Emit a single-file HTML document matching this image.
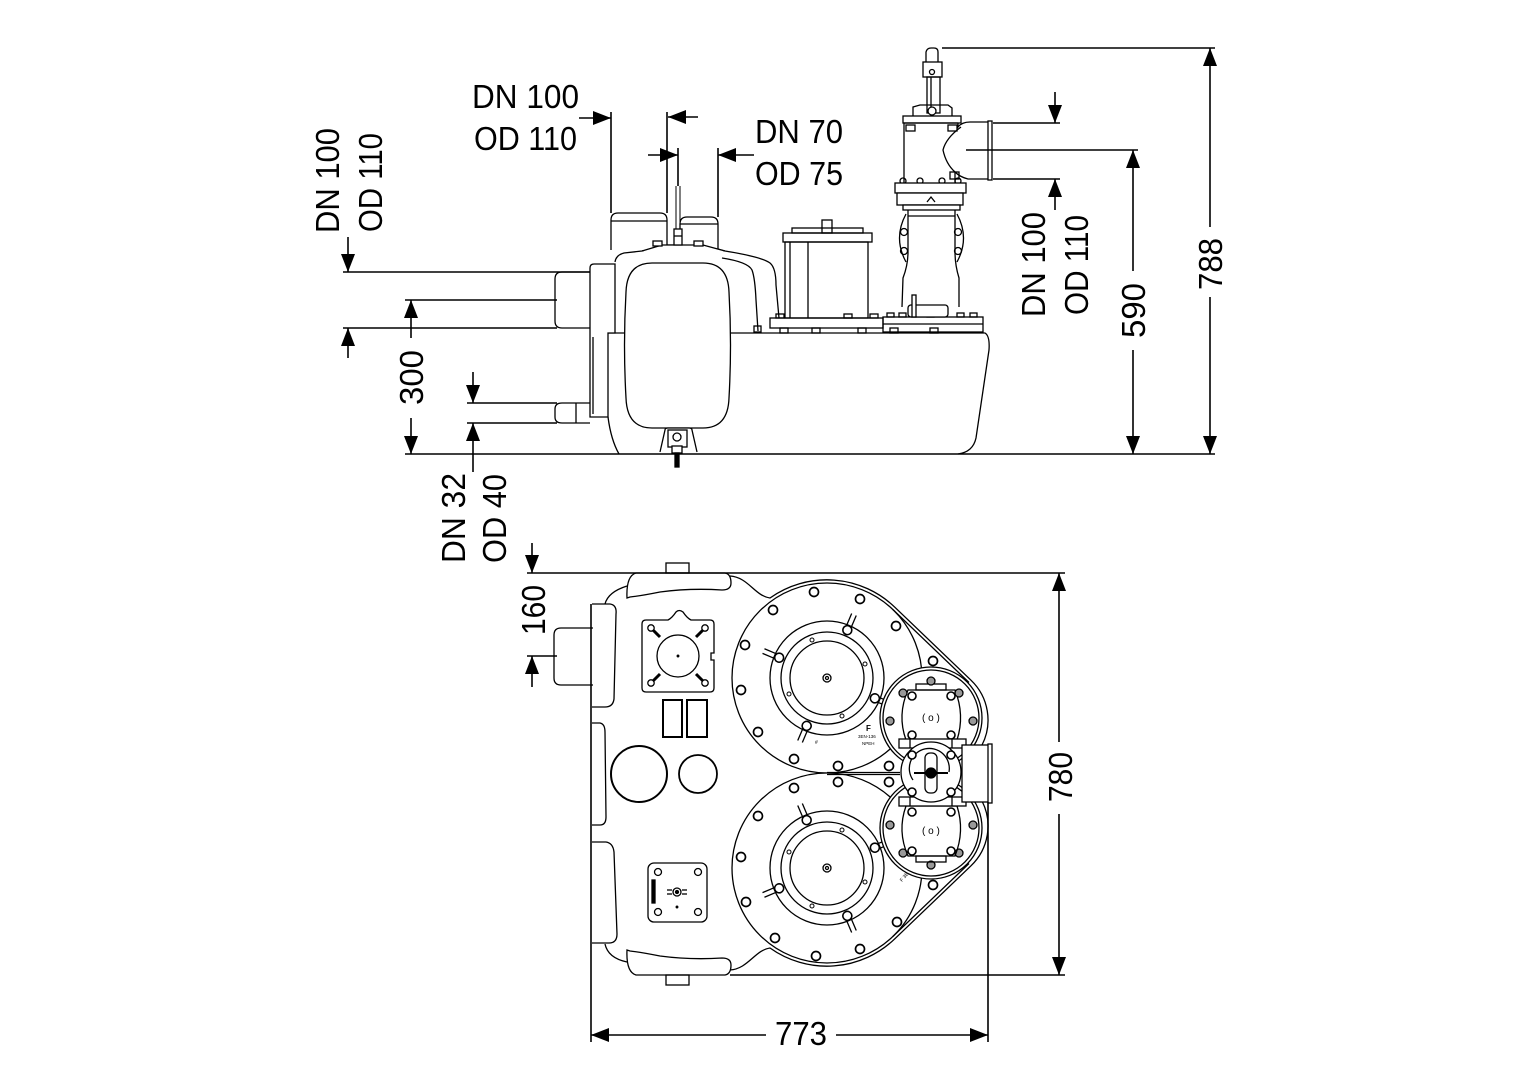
<!DOCTYPE html>
<html><head><meta charset="utf-8"><style>
html,body{margin:0;padding:0;background:#fff;}
svg{display:block;}
text{font-family:"Liberation Sans",Arial,sans-serif;fill:#000;stroke:none;}
</style></head><body>
<svg width="1528" height="1080" viewBox="0 0 1528 1080" xmlns="http://www.w3.org/2000/svg">
<defs>
<marker id="a" markerUnits="userSpaceOnUse" markerWidth="18" markerHeight="14" refX="18" refY="7" orient="auto"><path d="M0,0 L18,7 L0,14 Z" fill="#000" stroke="none"/></marker>
</defs>
<rect width="1528" height="1080" fill="#fff"/>

<!-- ================= ELEVATION DRAWING ================= -->
<g fill="none" stroke="#000" stroke-width="1.3">
 <!-- tank -->
 <path d="M608,333 L985,333 Q990,336 989,350 L976,438 Q973,452 958,454"/>
 <path d="M608,417 Q611,440 619,454"/>
 <!-- inlet pipe DN100 -->
 <path d="M590,272 L562,272 Q555,272 555,279 L555,321 Q555,328 562,328 L590,328" fill="#fff"/>
 <!-- small pipe DN32 -->
 <path d="M590,403 L562,403 Q555,403 555,409 L555,417 Q555,423 562,423 L590,423"/>
 <line x1="576" y1="403" x2="576" y2="423"/>
 <!-- flange -->
 <path d="M594,264 L615,264 L615,333 L608,333 L608,417 L590,417 L590,268 Q590,264 594,264 Z" fill="#fff"/>
 <line x1="593" y1="337" x2="593" y2="414"/>
 <!-- upper body -->
 <path d="M615,262 Q616,255 624,253 L642,251 L662,245 L703,245 L725,251 Q762,257 770,263 Q776,268 776,285 L779,318"/>
 <path d="M722,258 Q748,262 752,270 Q755,278 756,300 L758,331"/>
 <rect x="754" y="326" width="7" height="6"/>
 <!-- cylinders -->
 <path d="M611,250 L611,220 Q611,213 618,213 L660,213 Q667,213 667,220 L667,250" fill="#fff"/>
 <line x1="611" y1="221" x2="667" y2="221"/>
 <path d="M680,250 L680,224 Q680,217 687,217 L711,217 Q718,217 718,224 L718,250" fill="#fff"/>
 <line x1="680" y1="224" x2="718" y2="224"/>
 <path d="M642,251 L662,245 L703,245 L725,251" fill="#fff"/>
 <rect x="653" y="241" width="9" height="5" fill="#fff"/>
 <rect x="694" y="241" width="9" height="5" fill="#fff"/>
 <rect x="674" y="229" width="8" height="16" fill="#fff"/>
 <line x1="674" y1="236" x2="682" y2="236"/>
 <line x1="676" y1="186" x2="676" y2="229" stroke-width="1"/>
 <line x1="680" y1="186" x2="680" y2="229" stroke-width="1"/>
 <!-- capsule -->
 <path d="M652,263 L703,263 Q728,263 729,292 Q732,345 729,398 Q728,428 703,428 L652,428 Q627,428 626,398 Q623,345 626,292 Q627,263 652,263 Z" fill="#fff"/>
 <!-- drain foot -->
 <path d="M660,452 L665,430 Q665,428 668,428 L689,428 Q692,428 692,430 L697,452" fill="#fff"/>
 <rect x="668" y="430" width="19" height="17"/>
 <circle cx="677" cy="437" r="4"/>
 <rect x="672" y="446" width="10" height="7" fill="#fff"/>
 <rect x="675" y="453" width="4" height="14" fill="#000"/>

 <!-- motor box -->
 <rect x="822" y="220" width="10" height="13"/>
 <rect x="792" y="228" width="71" height="5"/>
 <rect x="783" y="233" width="89" height="9"/>
 <rect x="785" y="242" width="83" height="76"/>
 <line x1="790" y1="242" x2="790" y2="318"/>
 <line x1="808" y1="242" x2="808" y2="318"/>
 <rect x="770" y="318" width="113" height="10"/>
 <rect x="776" y="314" width="8" height="4"/>
 <rect x="844" y="314" width="8" height="4"/>
 <rect x="870" y="314" width="8" height="4"/>
 <rect x="780" y="328" width="8" height="5"/>
 <rect x="812" y="328" width="8" height="5"/>
 <rect x="858" y="328" width="8" height="5"/>
 <!-- pump base plate -->
 <rect x="883" y="317" width="100" height="15"/>
 <line x1="883" y1="324" x2="983" y2="324"/>
 <rect x="887" y="313" width="7" height="4"/>
 <rect x="899" y="313" width="7" height="4"/>
 <rect x="927" y="313" width="7" height="4"/>
 <rect x="957" y="313" width="7" height="4"/>
 <rect x="970" y="313" width="7" height="4"/>
 <rect x="890" y="328" width="8" height="5"/>
 <rect x="930" y="328" width="8" height="5"/>

 <!-- pump column -->
 <path d="M926,62 L926,52 Q927,48 931,48 L934,48 Q938,48 938,52 L938,62"/>
 <rect x="923" y="62" width="19" height="15"/>
 <rect x="927" y="77" width="13" height="36"/>
 <line x1="931" y1="77" x2="931" y2="107"/>
 <circle cx="932" cy="72" r="2.5"/>
 <circle cx="932" cy="111" r="4" fill="#fff"/>
 <path d="M913,116 L913,107 L920,105 L948,105 L952,108 L952,116"/>
 <rect x="903" y="116" width="58" height="7"/>
 <path d="M958,123 L904,123 L904,183"/>
 <path d="M958,123 L958,127 Q962,122 970,122 L989,122 L989,179 L968,179 Q960,177 955,172"/>
 <path d="M961,127 Q946,138 943,150 Q946,164 955,172 L955,183"/>
 <rect x="988" y="121" width="4" height="59" fill="#fff"/>
 <rect x="906" y="125" width="9" height="6"/>
 <rect x="948" y="125" width="9" height="6"/>
 <rect x="950" y="172" width="9" height="7"/>
 <circle cx="903" cy="181" r="3"/>
 <circle cx="920" cy="181" r="3"/>
 <circle cx="942" cy="181" r="3"/>
 <circle cx="958" cy="181" r="3"/>
 <rect x="895" y="183" width="71" height="10" fill="#fff"/>
 <rect x="897" y="193" width="66" height="12" fill="#fff"/>
 <path d="M927,202 L931,197 L935,202"/>
 <rect x="903" y="205" width="57" height="5" fill="#fff"/>
 <line x1="908" y1="216" x2="955" y2="216"/>
 <path d="M908,210 L908,252 Q908,265 903,278 L902,307"/>
 <path d="M955,210 L955,252 Q955,265 959,278 L959,307"/>
 <path d="M906,214 Q893,238 906,262"/>
 <path d="M957,214 Q970,238 957,262"/>
 <circle cx="904" cy="232" r="3.5"/>
 <circle cx="904" cy="251" r="3.5"/>
 <circle cx="958" cy="232" r="3.5"/>
 <circle cx="958" cy="251" r="3.5"/>
 <rect x="908" y="305" width="40" height="12" rx="3" fill="#fff"/>
 <rect x="912" y="295" width="4" height="22" fill="#fff"/>
</g>

<!-- ================= PLAN DRAWING ================= -->
<g fill="none" stroke="#000" stroke-width="1.3">
 <!-- lips & tabs -->
 <path d="M627,598 Q626,576 636,573 L725,573 Q731,574 731,583 Q731,590 722,590 Q690,588 660,592 Q640,596 630,597 Z"/>
 <path d="M627,950 Q626,972 636,975 L725,975 Q731,974 731,965 Q731,958 722,958 Q690,960 660,956 Q640,952 630,951 Z"/>
 <rect x="666" y="563" width="23" height="10"/>
 <rect x="666" y="975" width="23" height="10"/>
 <path d="M627,586 Q608,592 605,604"/>
 <path d="M605,944 Q608,958 627,962"/>
 <!-- left pads -->
 <path d="M592,604 L610,604 Q617,605 616,614 L614,699 Q613,707 605,707 L592,707"/>
 <path d="M592,723 L600,723 Q605,724 605,732 L606,817 Q606,825 600,825 L592,825"/>
 <path d="M592,842 L606,842 Q613,843 614,852 L617,934 Q617,943 609,943 L592,943"/>
 <path d="M593,628 L561,628 Q554,628 554,635 L554,678 Q554,685 561,685 L593,685"/>
 <!-- upper square plate -->
 <path d="M646,620 L668,620 Q672,618 676,612 Q679,609 683,612 Q687,618 691,620 L710,620 Q714,620 714,624 L714,653 L711,653 L711,660 L714,660 L714,688 Q714,692 710,692 L646,692 Q642,692 642,688 L642,624 Q642,620 646,620 Z"/>
 <circle cx="678" cy="656" r="21"/>
 <circle cx="678" cy="656" r="0.8" fill="#000"/>
 <line x1="651" y1="628" x2="660" y2="637" stroke-width="3"/>
 <line x1="705" y1="628" x2="696" y2="637" stroke-width="3"/>
 <line x1="651" y1="683" x2="660" y2="674" stroke-width="3"/>
 <line x1="705" y1="683" x2="696" y2="674" stroke-width="3"/>
 <circle cx="651" cy="628" r="3.2" fill="#fff"/>
 <circle cx="705" cy="628" r="3.2" fill="#fff"/>
 <circle cx="651" cy="683" r="3.2" fill="#fff"/>
 <circle cx="705" cy="683" r="3.2" fill="#fff"/>
 <rect x="663" y="700" width="19" height="37" stroke-width="2"/>
 <rect x="687" y="700" width="20" height="37" stroke-width="2"/>
 <circle cx="639" cy="774" r="28" stroke-width="2"/>
 <circle cx="698" cy="774" r="19" stroke-width="1.8"/>
 <!-- lower plate -->
 <rect x="648" y="863" width="59" height="59" rx="6"/>
 <circle cx="658" cy="872" r="3.5"/><circle cx="698" cy="872" r="3.5"/>
 <circle cx="658" cy="912" r="3.5"/><circle cx="698" cy="912" r="3.5"/>
 <circle cx="677" cy="892" r="4"/><circle cx="677" cy="892" r="1.5" fill="#000"/>
 <line x1="667" y1="890" x2="672" y2="890"/><line x1="667" y1="894" x2="672" y2="894"/>
 <line x1="682" y1="890" x2="687" y2="890"/><line x1="682" y1="894" x2="687" y2="894"/>
 <circle cx="677" cy="907" r="0.8" fill="#000"/>
 <rect x="652" y="880" width="3" height="23" fill="#000"/>

 <!-- flanges -->
 <circle cx="827" cy="678" r="95" fill="#fff"/>
 <circle cx="827" cy="868" r="95" fill="#fff"/>
 <line x1="827" y1="772.5" x2="900" y2="772.5"/>
 <line x1="827" y1="774.5" x2="900" y2="774.5"/>
 <!-- outer contours -->
 <path d="M730,576 C748,577 755,596 770,598 A98,98 0 0,1 894.8,607.2 L971.1,680.3 A55,55 0 0,1 982,745"/>
 <line x1="892.7" y1="609.4" x2="969" y2="682.5"/>
 <path d="M730,970 C748,969 755,950 770,948 A98,98 0 0,0 894.8,938.8 L971.1,865.7 A55,55 0 0,0 982,801"/>
 <line x1="892.7" y1="936.6" x2="969" y2="863.5"/>

 <!-- upper ring -->
 <g transform="translate(827,678)">
  <circle r="57"/><circle r="46"/><circle r="37"/><circle r="4"/><circle r="1.5"/>
  <g transform="rotate(-67)"><line x1="56" y1="-2.5" x2="69" y2="-2.5"/><line x1="56" y1="2.5" x2="69" y2="2.5"/><circle cx="52" r="4.5" fill="#fff" stroke-width="1.6"/></g>
  <g transform="rotate(23)"><line x1="56" y1="-2.5" x2="69" y2="-2.5"/><line x1="56" y1="2.5" x2="69" y2="2.5"/><circle cx="52" r="4.5" fill="#fff" stroke-width="1.6"/></g>
  <g transform="rotate(113)"><line x1="56" y1="-2.5" x2="69" y2="-2.5"/><line x1="56" y1="2.5" x2="69" y2="2.5"/><circle cx="52" r="4.5" fill="#fff" stroke-width="1.6"/></g>
  <g transform="rotate(203)"><line x1="56" y1="-2.5" x2="69" y2="-2.5"/><line x1="56" y1="2.5" x2="69" y2="2.5"/><circle cx="52" r="4.5" fill="#fff" stroke-width="1.6"/></g>
  <g stroke-width="1"><circle cx="-15" cy="-38" r="2"/><circle cx="38" cy="-14" r="2"/><circle cx="15" cy="38" r="2"/><circle cx="-38" cy="16" r="2"/></g>
 </g>
 <!-- lower ring -->
 <g transform="translate(827,868)">
  <circle r="57"/><circle r="46"/><circle r="37"/><circle r="4"/><circle r="1.5"/>
  <g transform="rotate(67)"><line x1="56" y1="-2.5" x2="69" y2="-2.5"/><line x1="56" y1="2.5" x2="69" y2="2.5"/><circle cx="52" r="4.5" fill="#fff" stroke-width="1.6"/></g>
  <g transform="rotate(-23)"><line x1="56" y1="-2.5" x2="69" y2="-2.5"/><line x1="56" y1="2.5" x2="69" y2="2.5"/><circle cx="52" r="4.5" fill="#fff" stroke-width="1.6"/></g>
  <g transform="rotate(-113)"><line x1="56" y1="-2.5" x2="69" y2="-2.5"/><line x1="56" y1="2.5" x2="69" y2="2.5"/><circle cx="52" r="4.5" fill="#fff" stroke-width="1.6"/></g>
  <g transform="rotate(157)"><line x1="56" y1="-2.5" x2="69" y2="-2.5"/><line x1="56" y1="2.5" x2="69" y2="2.5"/><circle cx="52" r="4.5" fill="#fff" stroke-width="1.6"/></g>
  <g stroke-width="1"><circle cx="-15" cy="38" r="2"/><circle cx="38" cy="14" r="2"/><circle cx="15" cy="-38" r="2"/><circle cx="-38" cy="-16" r="2"/></g>
 </g>
 <!-- outer bolts -->
 <g stroke-width="1.7" fill="#fff">
  <circle cx="814" cy="592" r="4.5"/><circle cx="860" cy="599" r="4.5"/><circle cx="773" cy="610" r="4.5"/>
  <circle cx="896" cy="626" r="4.5"/><circle cx="745" cy="645" r="4.5"/><circle cx="933" cy="661" r="4.5"/>
  <circle cx="741" cy="690" r="4.5"/><circle cx="758" cy="732" r="4.5"/><circle cx="794" cy="759" r="4.5"/>
  <circle cx="838" cy="766" r="4.5"/><circle cx="889" cy="766" r="4.5"/>
  <circle cx="794" cy="788" r="4.5"/><circle cx="838" cy="782" r="4.5"/><circle cx="889" cy="782" r="4.5"/>
  <circle cx="758" cy="816" r="4.5"/><circle cx="741" cy="857" r="4.5"/><circle cx="746" cy="902" r="4.5"/>
  <circle cx="775" cy="938" r="4.5"/><circle cx="816" cy="956" r="4.5"/><circle cx="860" cy="949" r="4.5"/>
  <circle cx="897" cy="922" r="4.5"/><circle cx="933" cy="885" r="4.5"/>
 </g>
 <text x="866" y="731" font-size="8" font-weight="bold">F</text>
 <text x="858" y="738" font-size="4.5">3EN-136</text>
 <text x="862" y="745" font-size="4.5">NPEH</text>
 <text x="815" y="744" font-size="5">#</text>
 <text transform="translate(902,882) rotate(-50)" font-size="5">F 3EN-136</text>

 <!-- pump circles -->
 <circle cx="931" cy="718" r="51" fill="#fff"/>
 <circle cx="931" cy="718" r="48"/>
 <circle cx="931" cy="828" r="51" fill="#fff"/>
 <circle cx="931" cy="828" r="48"/>
 <!-- upper pump inner -->
 <path d="M908,690 L955,690 Q965,715 957,740 L906,740 Q897,715 908,690 Z"/>
 <rect x="916" y="684" width="30" height="6"/>
 <g fill="#fff" stroke-width="1.6">
  <circle cx="912" cy="696" r="4"/><circle cx="951" cy="696" r="4"/><circle cx="912" cy="735" r="4"/><circle cx="951" cy="735" r="4"/>
  <circle cx="912" cy="851" r="4"/><circle cx="951" cy="851" r="4"/><circle cx="912" cy="812" r="4"/><circle cx="951" cy="812" r="4"/>
 </g>
 <g fill="#999">
  <circle cx="903" cy="693" r="4"/><circle cx="959" cy="693" r="4"/><circle cx="890" cy="721" r="4"/><circle cx="973" cy="721" r="4"/><circle cx="931" cy="681" r="4"/>
  <circle cx="903" cy="853" r="4"/><circle cx="959" cy="853" r="4"/><circle cx="890" cy="825" r="4"/><circle cx="973" cy="825" r="4"/><circle cx="931" cy="865" r="4"/>
 </g>
 <text x="922" y="721" font-size="10">( o )</text>
 <!-- lower pump inner -->
 <path d="M908,856 L955,856 Q965,831 957,806 L906,806 Q897,831 908,856 Z"/>
 <rect x="916" y="856" width="30" height="6"/>
 <text x="922" y="834" font-size="10">( o )</text>
 <!-- connector blocks -->
 <rect x="899" y="739" width="67" height="9" fill="#fff"/>
 <line x1="910" y1="739" x2="910" y2="748"/><line x1="952" y1="739" x2="952" y2="748"/>
 <rect x="899" y="797" width="67" height="9" fill="#fff"/>
 <line x1="910" y1="797" x2="910" y2="806"/><line x1="952" y1="797" x2="952" y2="806"/>
 <!-- outlet pipe -->
 <rect x="962" y="745" width="27" height="57" fill="#fff"/>
 <rect x="988" y="744" width="4" height="59" fill="#fff"/>
 <!-- valve -->
 <circle cx="931" cy="772" r="30" fill="#fff"/>
 <path d="M913,780 A20,20 0 1,1 949,772"/>
 <rect x="925" y="753" width="12" height="40" rx="5" fill="#fff"/>
 <line x1="914" y1="773" x2="948" y2="773" stroke-width="2"/>
 <circle cx="931" cy="773" r="5" fill="#000"/>
 <g fill="#fff" stroke-width="1.6">
  <circle cx="912" cy="755" r="4"/><circle cx="951" cy="755" r="4"/><circle cx="912" cy="792" r="4"/><circle cx="951" cy="792" r="4"/>
 </g>
</g>

<!-- ================= DIMENSIONS ================= -->
<g fill="none" stroke="#000" stroke-width="1.6">
 <line x1="579" y1="118" x2="611" y2="118" marker-end="url(#a)"/>
 <line x1="611" y1="112" x2="611" y2="213"/>
 <line x1="698" y1="117" x2="668" y2="117" marker-end="url(#a)"/>
 <line x1="667" y1="112" x2="667" y2="213"/>
 <line x1="648" y1="155" x2="678" y2="155" marker-end="url(#a)"/>
 <line x1="678" y1="148" x2="678" y2="186"/>
 <line x1="754" y1="155" x2="718" y2="155" marker-end="url(#a)"/>
 <line x1="718" y1="148" x2="718" y2="217"/>

 <line x1="343" y1="272" x2="590" y2="272"/>
 <line x1="343" y1="328" x2="557" y2="328"/>
 <line x1="348" y1="237" x2="348" y2="272" marker-end="url(#a)"/>
 <line x1="348" y1="358" x2="348" y2="328" marker-end="url(#a)"/>
 <line x1="405" y1="300" x2="557" y2="300"/>
 <line x1="411" y1="338" x2="411" y2="300" marker-end="url(#a)"/>
 <line x1="411" y1="418" x2="411" y2="454" marker-end="url(#a)"/>
 <line x1="467" y1="403" x2="557" y2="403"/>
 <line x1="467" y1="423" x2="557" y2="423"/>
 <line x1="473" y1="372" x2="473" y2="403" marker-end="url(#a)"/>
 <line x1="473" y1="472" x2="473" y2="423" marker-end="url(#a)"/>
 <line x1="405" y1="454" x2="1215" y2="454"/>

 <line x1="993" y1="123" x2="1060" y2="123"/>
 <line x1="993" y1="179" x2="1060" y2="179"/>
 <line x1="1055" y1="92" x2="1055" y2="123" marker-end="url(#a)"/>
 <line x1="1055" y1="210" x2="1055" y2="179" marker-end="url(#a)"/>
 <line x1="966" y1="150" x2="1138" y2="150"/>
 <line x1="1133" y1="271" x2="1133" y2="150" marker-end="url(#a)"/>
 <line x1="1133" y1="350" x2="1133" y2="454" marker-end="url(#a)"/>
 <line x1="942" y1="48" x2="1215" y2="48"/>
 <line x1="1210" y1="227" x2="1210" y2="48" marker-end="url(#a)"/>
 <line x1="1210" y1="297" x2="1210" y2="454" marker-end="url(#a)"/>

 <line x1="527" y1="573" x2="1065" y2="573"/>
 <line x1="532" y1="543" x2="532" y2="573" marker-end="url(#a)"/>
 <line x1="527" y1="656" x2="557" y2="656"/>
 <line x1="532" y1="687" x2="532" y2="656" marker-end="url(#a)"/>
 <line x1="730" y1="975" x2="1065" y2="975"/>
 <line x1="1059" y1="742" x2="1059" y2="573" marker-end="url(#a)"/>
 <line x1="1059" y1="814" x2="1059" y2="975" marker-end="url(#a)"/>
 <line x1="591" y1="604" x2="591" y2="1042"/>
 <line x1="988" y1="802" x2="988" y2="1042"/>
 <line x1="766" y1="1035" x2="591" y2="1035" marker-end="url(#a)"/>
 <line x1="836" y1="1035" x2="988" y2="1035" marker-end="url(#a)"/>
</g>

<!-- ================= TEXT ================= -->
<g font-size="33">
 <text x="472" y="108" textLength="107" lengthAdjust="spacingAndGlyphs">DN 100</text>
 <text x="474" y="150" textLength="103" lengthAdjust="spacingAndGlyphs">OD 110</text>
 <text x="755" y="143" textLength="88" lengthAdjust="spacingAndGlyphs">DN 70</text>
 <text x="755" y="185" textLength="88" lengthAdjust="spacingAndGlyphs">OD 75</text>
 <text transform="translate(339,233) rotate(-90)" textLength="105" lengthAdjust="spacingAndGlyphs">DN 100</text>
 <text transform="translate(382,232) rotate(-90)" textLength="99" lengthAdjust="spacingAndGlyphs">OD 110</text>
 <text transform="translate(423,405) rotate(-90)" textLength="55" lengthAdjust="spacingAndGlyphs">300</text>
 <text transform="translate(465,563) rotate(-90)" textLength="90" lengthAdjust="spacingAndGlyphs">DN 32</text>
 <text transform="translate(506,563) rotate(-90)" textLength="89" lengthAdjust="spacingAndGlyphs">OD 40</text>
 <text transform="translate(545,635) rotate(-90)" textLength="50" lengthAdjust="spacingAndGlyphs">160</text>
 <text transform="translate(1045,317) rotate(-90)" textLength="105" lengthAdjust="spacingAndGlyphs">DN 100</text>
 <text transform="translate(1088,315) rotate(-90)" textLength="100" lengthAdjust="spacingAndGlyphs">OD 110</text>
 <text transform="translate(1145,338) rotate(-90)" textLength="55" lengthAdjust="spacingAndGlyphs">590</text>
 <text transform="translate(1222,290) rotate(-90)" textLength="52" lengthAdjust="spacingAndGlyphs">788</text>
 <text transform="translate(1072,802) rotate(-90)" textLength="50" lengthAdjust="spacingAndGlyphs">780</text>
 <text x="775" y="1045" textLength="52" lengthAdjust="spacingAndGlyphs">773</text>
</g>
</svg>
</body></html>
